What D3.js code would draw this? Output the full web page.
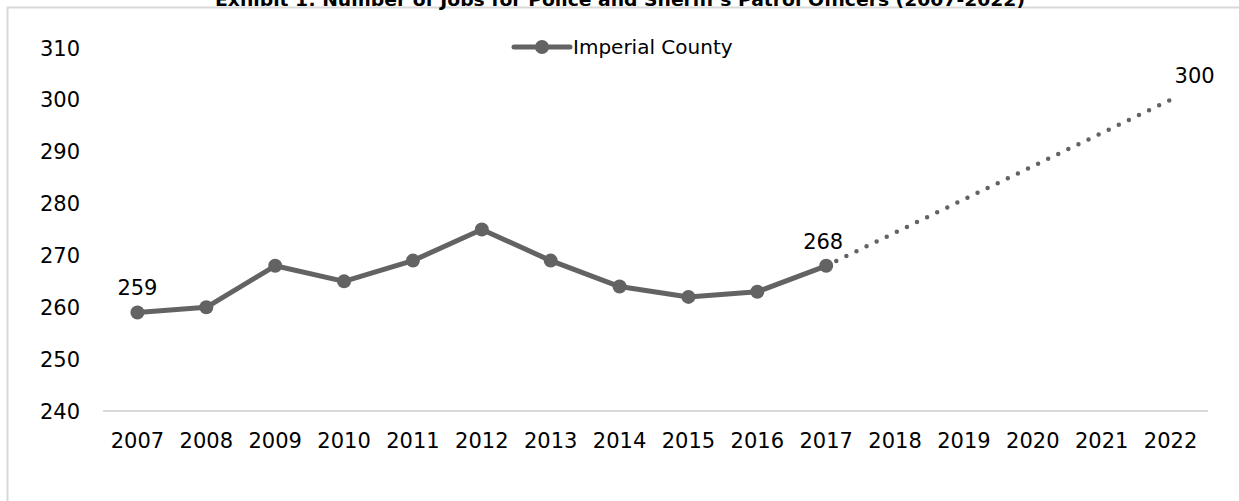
<!DOCTYPE html>
<html>
<head>
    <meta charset="UTF-8">
    <title>Imperial County jobs</title>
    <script src="https://d3js.org/d3.v7.min.js"></script>
    <style>
        body { margin: 0; background: #fff; }
        text { font-family: "DejaVu Sans", "Lato", sans-serif; fill: #000; }
    </style>
</head>
<body>
<svg id="chart" width="1239" height="501"></svg>
<script>
    var years = ["2007", "2008", "2009", "2010", "2011", "2012", "2013", "2014",
                 "2015", "2016", "2017", "2018", "2019", "2020", "2021", "2022"];
    var actualYears = ["2007", "2008", "2009", "2010", "2011", "2012", "2013", "2014", "2015", "2016", "2017"];
    var actualValues = [259, 260, 268, 265, 269, 275, 269, 264, 262, 263, 268];
    var projYears = ["2017", "2022"];
    var projValues = [268, 300];
    var yTicks = [240, 250, 260, 270, 280, 290, 300, 310];
    var seriesName = "Imperial County";
    var title = "Exhibit 1: Number of Jobs for Police and Sheriff's Patrol Officers (2007-2022)";

    var grey = "#636363";
    var svg = d3.select("#chart");

    // frame, runs off the right and bottom edge like the original
    svg.append("rect")
        .attr("x", 7.5).attr("y", 7.5)
        .attr("width", 1260).attr("height", 520)
        .attr("fill", "none")
        .attr("stroke", "#d9d9d9")
        .attr("stroke-width", 2);

    // title sits half above the frame, clipped at the top as in the source
    svg.append("text")
        .attr("x", 620).attr("y", 6)
        .attr("text-anchor", "middle")
        .attr("textLength", 810)
        .attr("lengthAdjust", "spacingAndGlyphs")
        .style("font-weight", "bold")
        .style("font-size", "18px")
        .text(title);

    var x = d3.scaleBand().domain(years).range([103, 1205]);
    var y = d3.scaleLinear().domain([240, 310]).range([411, 48]);
    function cx(yr) { return x(yr) + x.bandwidth() / 2; }

    // y labels
    svg.append("g").selectAll("text")
        .data(yTicks)
        .enter().append("text")
        .attr("x", 80)
        .attr("y", function (d) { return y(d); })
        .attr("dy", "0.36em")
        .attr("text-anchor", "end")
        .style("font-size", "21px")
        .text(function (d) { return d; });

    // bottom axis line
    svg.append("line")
        .attr("x1", 103).attr("x2", 1208)
        .attr("y1", y(240)).attr("y2", y(240))
        .attr("stroke", "#d9d9d9")
        .attr("stroke-width", 2);

    svg.append("g").selectAll("text")
        .data(years)
        .enter().append("text")
        .attr("x", function (d) { return cx(d); })
        .attr("y", 448)
        .attr("text-anchor", "middle")
        .style("font-size", "21px")
        .text(function (d) { return d; });

    var actual = actualYears.map(function (d, i) { return {year: d, value: actualValues[i]}; });
    var proj = projYears.map(function (d, i) { return {year: d, value: projValues[i]}; });

    var line = d3.line()
        .x(function (d) { return cx(d.year); })
        .y(function (d) { return y(d.value); });

    svg.append("path")
        .datum(proj)
        .attr("d", line)
        .attr("fill", "none")
        .attr("stroke", grey)
        .attr("stroke-width", 4.5)
        .attr("stroke-linecap", "round")
        .attr("stroke-dasharray", "0 11.2");

    svg.append("path")
        .datum(actual)
        .attr("d", line)
        .attr("fill", "none")
        .attr("stroke", grey)
        .attr("stroke-width", 5)
        .attr("stroke-linejoin", "round");

    svg.append("g").selectAll("circle")
        .data(actual)
        .enter().append("circle")
        .attr("cx", function (d) { return cx(d.year); })
        .attr("cy", function (d) { return y(d.value); })
        .attr("r", 7)
        .attr("fill", grey);

    // data labels
    var labels = [
        {year: "2007", value: 259, dx: 0},
        {year: "2017", value: 268, dx: -3},
        {year: "2022", value: 300, dx: 24}
    ];
    svg.append("g").selectAll("text")
        .data(labels)
        .enter().append("text")
        .attr("x", function (d) { return cx(d.year) + d.dx; })
        .attr("y", function (d) { return y(d.value) - 17; })
        .attr("text-anchor", "middle")
        .style("font-size", "21px")
        .text(function (d) { return d.value; });

    // legend
    var lg = svg.append("g").attr("transform", "translate(514,47)");
    lg.append("line")
        .attr("x1", 0).attr("x2", 56)
        .attr("stroke", grey).attr("stroke-width", 5)
        .attr("stroke-linecap", "round");
    lg.append("circle").attr("cx", 28).attr("r", 7).attr("fill", grey);
    lg.append("text")
        .attr("x", 59).attr("dy", "0.36em")
        .style("font-size", "20px")
        .text(seriesName);
</script>
</body>
</html>
